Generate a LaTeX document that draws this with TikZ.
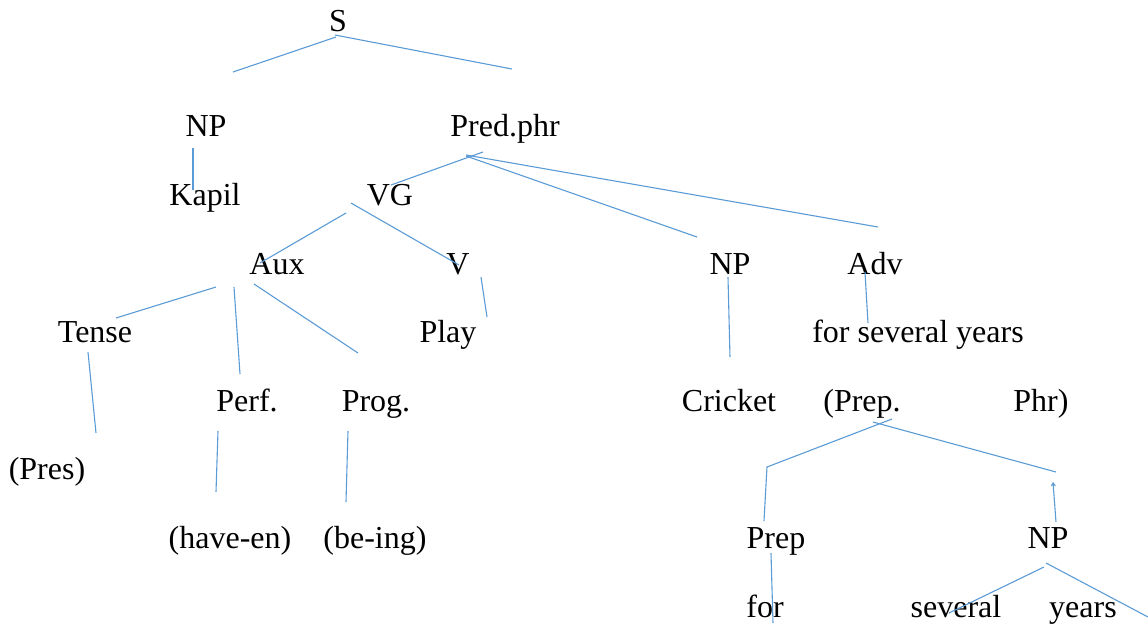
\documentclass[tikz,border=0pt]{standalone}
\usepackage{fontspec}
\setmainfont{Liberation Serif}
\usetikzlibrary{positioning,arrows.meta}
\definecolor{treeblue}{RGB}{91,155,213}

\begin{document}
\begin{tikzpicture}[x=0.5pt,y=-0.5pt,
    lbl/.style={anchor=base,inner sep=0pt,font=\fontsize{16}{19}\selectfont},
    br/.style={draw=treeblue,line width=0.55pt}]
   \useasboundingbox (0,0) rectangle (1148,623);
   % labels
   \node[lbl] (s)         at (338,31)  {S};
   \node[lbl] (np-subj)   at (206,136) {NP};
   \node[lbl] (pred)      at (505,136) {Pred.phr};
   \node[lbl] (kapil)     at (205,205) {Kapil};
   \node[lbl] (vg)        at (390,205) {VG};
   \node[lbl] (aux)       at (277,274) {Aux};
   \node[lbl] (v)         at (458,274) {V};
   \node[lbl] (np-obj)    at (730,274) {NP};
   \node[lbl] (adv)       at (875,274) {Adv};
   \node[lbl] (tense)     at (95,342)  {Tense};
   \node[lbl] (play)      at (448,342) {Play};
   \node[lbl] (fsy)       at (918,342) {for several years};
   \node[lbl] (perf)      at (247,411) {Perf.};
   \node[lbl] (prog)      at (376,411) {Prog.};
   \node[lbl] (cricket)   at (729,411) {Cricket};
   \node[lbl] (prep-open) at (862,411) {(Prep.};
   \node[lbl] (phr-close) at (1041,411) {Phr)};
   \node[lbl] (pres)      at (47,479)  {(Pres)};
   \node[lbl] (haveen)    at (230,548) {(have-en)};
   \node[lbl] (being)     at (375,548) {(be-ing)};
   \node[lbl] (prep)      at (776,548) {Prep};
   \node[lbl] (np-pp)     at (1048,548) {NP};
   \node[lbl] (for)       at (765,617) {for};
   \node[lbl] (several)   at (956,617) {several};
   \node[lbl] (years)     at (1083,617) {years};
   % line ends
   \coordinate (s-l) at (336,37);    \coordinate (np-subj-t) at (233,72);
   \coordinate (s-r) at (335,35);    \coordinate (pred-t) at (512,69);
   \coordinate (np-subj-b) at (193,148); \coordinate (kapil-t) at (193,190);
   \coordinate (pred-b1) at (483,152); \coordinate (vg-t) at (391,185);
   \coordinate (pred-b2) at (466,156); \coordinate (np-obj-t) at (697,237);
   \coordinate (pred-b3) at (466,155); \coordinate (adv-t) at (878,227);
   \coordinate (vg-b1) at (346,213); \coordinate (aux-t) at (260,263);
   \coordinate (vg-b2) at (351,203); \coordinate (v-t) at (459,265);
   \coordinate (v-b) at (481,277);   \coordinate (play-t) at (487,317);
   \coordinate (aux-b1) at (216,287); \coordinate (tense-t) at (116,318);
   \coordinate (aux-b2) at (234,287); \coordinate (perf-t) at (240,374);
   \coordinate (aux-b3) at (254,284); \coordinate (prog-t) at (358,353);
   \coordinate (tense-b) at (88,352); \coordinate (pres-t) at (96,433);
   \coordinate (perf-b) at (218,431); \coordinate (haveen-t) at (216,492);
   \coordinate (prog-b) at (348,431); \coordinate (being-t) at (346,502);
   \coordinate (np-obj-b) at (728,277); \coordinate (cricket-t) at (730,357);
   \coordinate (adv-b) at (865,272); \coordinate (fsy-t) at (868,323);
   \coordinate (pp-b1) at (892,419); \coordinate (pp-k) at (767,467); \coordinate (prep-t) at (764,521);
   \coordinate (pp-b2) at (873,422); \coordinate (pp-r) at (1056,472);
   \coordinate (np-pp-t) at (1056,522); \coordinate (np-pp-u) at (1053,482);
   \coordinate (prep-b) at (771,553); \coordinate (for-t) at (773,623);
   \coordinate (np-pp-b1) at (1044,567); \coordinate (several-t) at (949,613);
   \coordinate (np-pp-b2) at (1046,563); \coordinate (years-r) at (1148,617);
   % branches
   \path[br]
    (s-l) edge (np-subj-t)
    (s-r) edge (pred-t)
    (np-subj-b) edge (kapil-t)
    (pred-b1) edge (vg-t)
    (pred-b2) edge (np-obj-t)
    (pred-b3) edge (adv-t)
    (vg-b1) edge (aux-t)
    (vg-b2) edge (v-t)
    (v-b) edge (play-t)
    (aux-b1) edge (tense-t)
    (aux-b2) edge (perf-t)
    (aux-b3) edge (prog-t)
    (tense-b) edge (pres-t)
    (perf-b) edge (haveen-t)
    (prog-b) edge (being-t)
    (np-obj-b) edge (cricket-t)
    (adv-b) edge (fsy-t)
    (pp-b2) edge (pp-r)
    (np-pp-t) edge [-{Straight Barb[length=1.5pt,width=2pt]}] (np-pp-u)
    (prep-b) edge (for-t)
    (np-pp-b1) edge (several-t)
    (np-pp-b2) edge (years-r);
   \draw[br] (pp-b1) -- (pp-k) -- (prep-t);
\end{tikzpicture}
\end{document}
